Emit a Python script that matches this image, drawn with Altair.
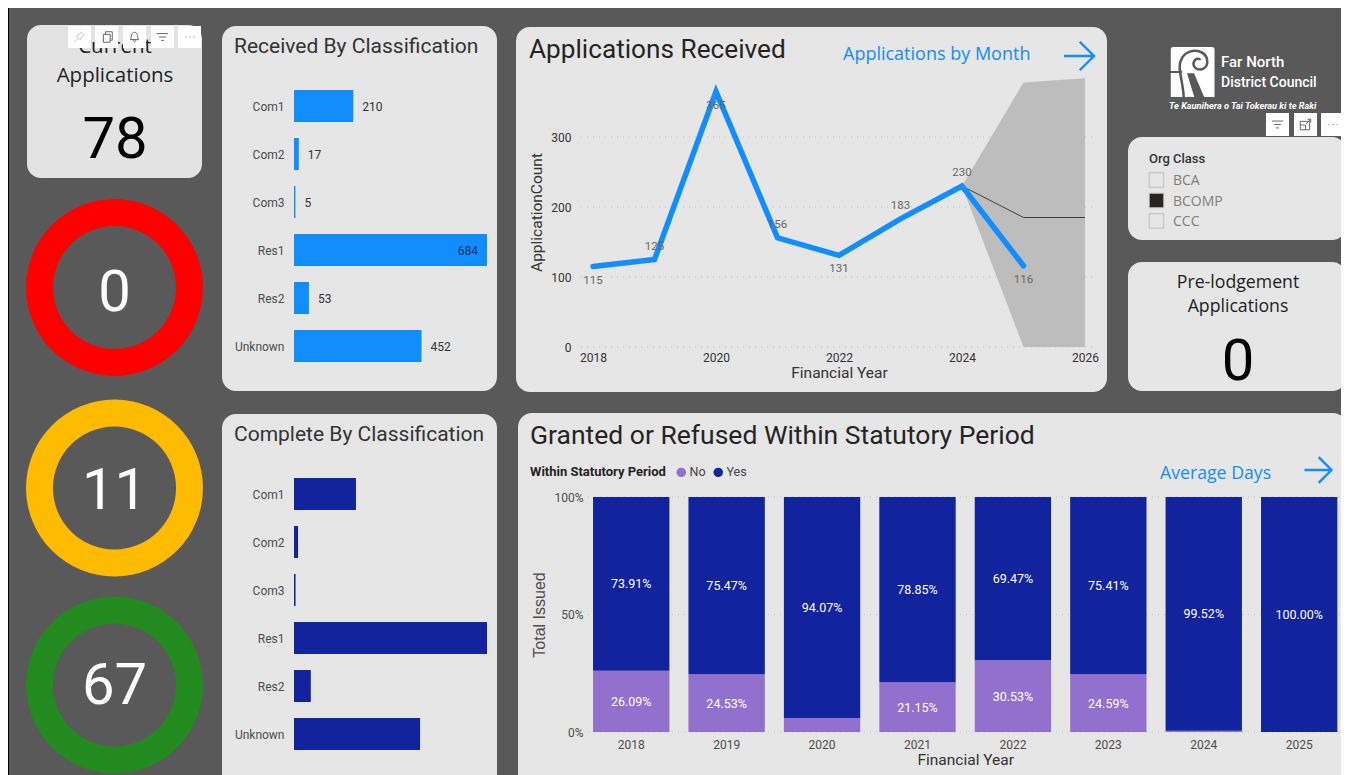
import altair as alt
import pandas as pd

# ---------- data ----------
classes = ["Com1", "Com2", "Com3", "Res1", "Res2", "Unknown"]
received = [210, 17, 5, 684, 53, 452]
complete = [199, 13, 5, 620, 54, 405]

years = [2018, 2019, 2020, 2021, 2022, 2023, 2024, 2025]
applications = [115, 125, 365, 156, 131, 183, 230, 116]
labels_above = [2019, 2021, 2023, 2024]
fc_years = [2024, 2025, 2026]
fc_mid = [230, 185, 185]
fc_low = [230, 0, 0]
fc_high = [230, 378, 384]
line_x_ticks = [2018, 2020, 2022, 2024, 2026]
line_y_ticks = [0, 100, 200, 300]

stat_years = ["2018", "2019", "2020", "2021", "2022", "2023", "2024", "2025"]
stat_no = [26.09, 24.53, 5.93, 21.15, 30.53, 24.59, 0.48, 0.0]
stat_yes = [73.91, 75.47, 94.07, 78.85, 69.47, 75.41, 99.52, 100.0]
stat_y_ticks = [0, 50, 100]

org_classes = ["BCA", "BCOMP", "CCC"]
org_selected = [False, True, False]

BG = "#595959"
CARD = "#E6E6E6"
BLUE = "#118DFF"
NAVY = "#12239E"
PURPLE = "#9270CE"
DIN = "Roboto"
SEG = "Open Sans"
O = 8  # page margin
W, H = 1333, 767


def card(x0, y0, x1, y1, color=CARD, r=14):
    return alt.Chart(pd.DataFrame({"a": [0]})).mark_rect(cornerRadius=r, color=color).encode(
        x=alt.value(x0 - O), x2=alt.value(x1 - O), y=alt.value(y0 - O), y2=alt.value(y1 - O))


def txt(s, x, y, size, color="#252423", font=DIN, align="center", weight="normal", angle=0):
    return alt.Chart(pd.DataFrame({"t": [s]})).mark_text(
        fontSize=size, color=color, font=font, align=align, baseline="middle",
        fontWeight=weight, angle=angle).encode(
        text="t:N", x=alt.value(x - O), y=alt.value(y - O + 1))


def glyph(path, x, y, size, color="#666666", sw=1.0, filled=False):
    kw = dict(fill=color, stroke=None, opacity=1) if filled else dict(fill=None, stroke=color, strokeWidth=sw, opacity=1)
    return alt.Chart(pd.DataFrame({"a": [0]})).mark_point(shape=path, size=size, filled=filled, **kw).encode(
        x=alt.value(x - O), y=alt.value(y - O))


ARROW = "M-1,0L1,0M0.05,-0.95L1,0L0.05,0.95"
FILTER = "M-1,-0.6L1,-0.6M-0.6,0L0.6,0M-0.25,0.6L0.25,0.6"
DOTS = "M-1,0L-0.8,0M-0.1,0L0.1,0M0.8,0L1,0"
COPY = "M-0.7,-0.5L-0.7,1L0.6,1L0.6,-0.5ZM-0.3,-0.5L-0.3,-1L1,-1L1,0.6L0.6,0.6"
BELL = "M-0.8,0.5C-0.5,0.2,-0.7,-0.9,0,-0.9C0.7,-0.9,0.5,0.2,0.8,0.5ZM-0.25,0.6C-0.2,1,0.2,1,0.25,0.6"
PIN = "M-1,1L-0.2,0.2M-0.6,-0.2L0.2,0.6L0.3,0.1L0.9,-0.4L0.3,-1L-0.2,-0.3Z"
FOCUS = "M-1,-0.6L-1,1L0.8,1L0.8,-0.6ZM-1,0.1L0,0.1L0,1M0.1,-0.1L1,-1M0.4,-1L1,-1L1,-0.4"
LOGO_BLOCK = "M-0.85,-0.9Q-0.85,-1,-0.75,-1L0.8,-1Q0.9,-1,0.9,-0.9L0.9,1L-0.85,1Z"
LOGO_SWIRL = "M-0.33,1.03C-0.35,0.4,-0.6,-0.2,-0.45,-0.45C-0.3,-0.85,0.1,-0.9,0.35,-0.8C0.7,-0.65,0.7,-0.15,0.35,-0.1C0.1,-0.08,0,-0.3,0.1,-0.45C0.15,-0.55,0.3,-0.55,0.33,-0.48"
LOGO_WEDGE = "M-0.2,0.05L0.08,0.05L0.5,1.03L0.1,1.03Z"
LOGO_GAP = "M-0.9,0L-0.4,0"

layers = []

# left black edge
layers.append(card(8, 0, 9, 790, "#000000", 0))

# ---------- KPI cards ----------
layers.append(card(27, 25, 202, 178, "#E3E3E3"))
layers.append(txt("Current", 115, 46, 20.5, "#201F1E", SEG))
layers.append(txt("Applications", 115, 75, 20.5, "#201F1E", SEG))
layers.append(txt("78", 115, 140, 58, "#000000"))

for val, col, cy, ty in [("0", "#FF0000", 287.5, 293), ("11", "#FFBB00", 488, 490.5), ("67", "#238A1F", 685, 685.5)]:
    layers.append(alt.Chart(pd.DataFrame({"a": [val]})).mark_arc(
        innerRadius=61.5, outerRadius=88.5, theta=0, theta2=6.2832, color=col).encode(
        x=alt.value(114.5 - O), y=alt.value(cy - O)))
    layers.append(txt(val, 114.5, ty, 58, "#FFFFFF"))

# toolbar over first card
for x0 in [68, 95, 123, 151, 178]:
    layers.append(card(x0, 26, x0 + 23, 48, "#FFFFFF", 0))
layers.append(glyph(PIN, 79.5, 37, 110, "#C8C8C8"))
layers.append(glyph(COPY, 107, 37, 110))
layers.append(glyph(BELL, 134.5, 37, 110))
layers.append(glyph(FILTER, 162.5, 37, 130))
layers.append(glyph(DOTS, 190, 37, 80))


# ---------- horizontal bars ----------
def hbar_scales(values, y0, y1, xmax):
    df = pd.DataFrame({"cat": classes, "v": values})
    xs = alt.Scale(domain=[0, xmax], range=[294 - O, 487 - O])
    ys = alt.Scale(domain=classes, range=[y0 - O, y1 - O], paddingInner=1 / 3, paddingOuter=1 / 6)
    return df, xs, ys


def class_axis():
    return alt.Axis(
        orient="left", offset=-(294 - O), title=None, domain=False, ticks=False, grid=False,
        labelPadding=10, labelFontSize=12, labelColor="#4d4d4d", labelFont=DIN, labelOffset=1, zindex=1)


df, xs, ys = hbar_scales(received, 82, 370, max(received))
layers.append(card(222, 26, 497, 391))
layers.append(txt("Received By Classification", 234, 46, 21, "#333333", align="left"))
layers.append(alt.Chart(df).mark_bar(color=BLUE).encode(
    x=alt.X("v:Q", scale=xs, axis=None),
    y=alt.Y("cat:N", scale=ys, axis=class_axis())))
layers.append(alt.Chart(df).transform_filter("datum.v < 600").mark_text(
    align="left", dx=9, dy=1, fontSize=12, font=DIN, color="#333333", baseline="middle").encode(
    x=alt.X("v:Q", scale=xs, axis=None), y=alt.Y("cat:N", scale=ys, axis=None), text="v:Q"))
layers.append(alt.Chart(df).transform_filter("datum.v >= 600").mark_text(
    align="right", dx=-9, dy=1, fontSize=12, font=DIN, color="#12305a", baseline="middle").encode(
    x=alt.X("v:Q", scale=xs, axis=None), y=alt.Y("cat:N", scale=ys, axis=None), text="v:Q"))

df, xs, ys = hbar_scales(complete, 470, 758, max(complete))
layers.append(card(222, 414, 497, 800))
layers.append(txt("Complete By Classification", 234, 434, 21, "#333333", align="left"))
layers.append(alt.Chart(df).mark_bar(color=NAVY).encode(
    x=alt.X("v:Q", scale=xs, axis=None),
    y=alt.Y("cat:N", scale=ys, axis=class_axis())))

# ---------- applications line ----------
layers.append(card(516, 27, 1107, 392))
layers.append(txt("Applications Received", 529, 49, 26.2, "#252423", align="left"))
layers.append(txt("Applications by Month", 843, 54, 18, BLUE, SEG, align="left"))
layers.append(glyph(ARROW, 1079, 56, 900, BLUE, 2.4))

lx = alt.Scale(domain=[2018, 2026], range=[593 - O, 1085 - O])
ly = alt.Scale(domain=[0, 400], range=[347 - O, 67 - O])
df_line = pd.DataFrame({"year": years, "n": applications})
df_fc = pd.DataFrame({"year": fc_years, "mid": fc_mid, "low": fc_low, "high": fc_high})

layers.append(alt.Chart(pd.DataFrame({"t": line_y_ticks})).mark_rule(
    color="#BDBDBD", strokeDash=[1, 5], strokeWidth=1).encode(
    x=alt.value(581 - O), x2=alt.value(1093 - O), y=alt.Y("t:Q", scale=ly, axis=None)))
layers.append(alt.Chart(df_fc).mark_area(color="#BDBDBD", opacity=1).encode(
    x=alt.X("year:Q", scale=lx, axis=None),
    y=alt.Y("low:Q", scale=ly, axis=None), y2="high:Q"))
layers.append(alt.Chart(df_fc).mark_line(color="#404040", strokeWidth=1).encode(
    x=alt.X("year:Q", scale=lx, axis=None), y=alt.Y("mid:Q", scale=ly, axis=None)))
layers.append(alt.Chart(df_line).mark_line(color=BLUE, strokeWidth=5.5, strokeCap="round", strokeJoin="miter").encode(
    x=alt.X("year:Q", scale=lx, axis=alt.Axis(
        orient="bottom", offset=(347 - O) - H, title="Financial Year", values=line_x_ticks, format="d",
        domain=False, ticks=False, grid=False, labelPadding=5, labelFontSize=12, labelColor="#333333",
        labelFont=DIN, labelFlush=False, titleFont=DIN, titleFontSize=15.5, titleFontWeight="normal",
        titleColor="#333333", titlePadding=2, labelOverlap=False, zindex=1)),
    y=alt.Y("n:Q", scale=ly, axis=alt.Axis(
        orient="left", offset=-(581 - O), title="ApplicationCount", values=line_y_ticks,
        domain=False, ticks=False, grid=False, labelPadding=10, labelFontSize=12, labelColor="#333333",
        labelFont=DIN, titleFont=DIN, titleFontSize=15.5, titleFontWeight="normal",
        titleColor="#333333", titlePadding=6, titleY=212 - O, zindex=1))))
for expr, dy in [(f"indexof({labels_above}, datum.year) >= 0", -13),
                 (f"indexof({labels_above}, datum.year) < 0", 14)]:
    layers.append(alt.Chart(df_line).transform_filter(expr).mark_text(
        fontSize=11.5, font=DIN, color="#666666", dy=dy, baseline="middle").encode(
        x=alt.X("year:Q", scale=lx, axis=None), y=alt.Y("n:Q", scale=ly, axis=None), text="n:Q"))

# ---------- logo ----------
layers.append(glyph(LOGO_BLOCK, 1192, 72, 2500, "#FFFFFF", filled=True))
layers.append(glyph(LOGO_SWIRL, 1192, 72, 2500, BG, 2.5))
layers.append(glyph(LOGO_WEDGE, 1192, 72, 2500, BG, filled=True))
layers.append(glyph(LOGO_GAP, 1192, 72, 2500, BG, 2))
layers.append(txt("Far North", 1221, 61, 15, "#FFFFFF", align="left", weight=500))
layers.append(txt("District Council", 1221, 82, 14, "#FFFFFF", align="left", weight=500))
layers.append(alt.Chart(pd.DataFrame({"t": ["Te Kaunihera o Tai Tokerau ki te Raki"]})).mark_text(
    fontSize=9.2, color="#FFFFFF", font=DIN, fontStyle="italic", align="left",
    baseline="middle", fontWeight="bold").encode(text="t:N", x=alt.value(1169 - O), y=alt.value(106 - O)))
for x0 in [1266, 1294, 1321]:
    layers.append(card(x0, 113, x0 + 23, 136, "#FFFFFF", 0))
layers.append(glyph(FILTER, 1277.5, 124.5, 130))
layers.append(glyph(FOCUS, 1305.5, 124.5, 110))
layers.append(glyph(DOTS, 1333, 124.5, 80))

# ---------- slicer ----------
layers.append(card(1128, 137, 1346, 240))
layers.append(txt("Org Class", 1149, 157.5, 13, "#333333", align="left", weight=500))
org_y = alt.Scale(domain=org_classes, range=[180 - O, 221 - O], padding=0)
df_org = pd.DataFrame({"c": org_classes, "s": org_selected})
layers.append(alt.Chart(df_org).mark_point(shape="square", size=210, filled=True, stroke="#BDBDBD", strokeWidth=1, opacity=1).encode(
    x=alt.value(1156.5 - O),
    y=alt.Y("c:N", scale=org_y, axis=None),
    fill=alt.Fill("s:N", scale=alt.Scale(domain=[False, True], range=["#E6E6E6", "#252423"]), legend=None)))
layers.append(alt.Chart(df_org).mark_text(fontSize=14, font=SEG, color="#7F7F7F", align="left", baseline="middle", dy=1).encode(
    x=alt.value(1173 - O), y=alt.Y("c:N", scale=org_y, axis=None), text="c:N"))

# ---------- pre-lodgement ----------
layers.append(card(1128, 262, 1346, 391))
layers.append(txt("Pre-lodgement", 1238, 282, 17.7, "#201F1E", SEG))
layers.append(txt("Applications", 1238, 306, 17.7, "#201F1E", SEG))
layers.append(txt("0", 1238, 362, 58, "#000000"))

# ---------- statutory stacked bars ----------
layers.append(card(518, 413, 1347, 800))
layers.append(txt("Granted or Refused Within Statutory Period", 530, 435, 26.5, "#252423", align="left"))
layers.append(txt("Average Days", 1160, 473, 17.7, BLUE, SEG, align="left"))
layers.append(glyph(ARROW, 1318, 470, 729, BLUE, 2.4))

sx = alt.Scale(domain=stat_years, range=[583.5 - O, 1346.9 - O], paddingInner=0.2, paddingOuter=0.1)
sy = alt.Scale(domain=[0, 100], range=[732 - O, 497 - O])
rows = []
for yr, no, yes in zip(stat_years, stat_no, stat_yes):
    rows.append({"yr": yr, "status": "No", "pct": no, "rank": 0, "mid": no / 2})
    rows.append({"yr": yr, "status": "Yes", "pct": yes, "rank": 1, "mid": no + yes / 2})
df_stat = pd.DataFrame(rows)

layers.append(alt.Chart(pd.DataFrame({"t": stat_y_ticks})).mark_rule(
    color="#BDBDBD", strokeDash=[1, 5], strokeWidth=1).encode(
    x=alt.value(588 - O), x2=alt.value(1345 - O), y=alt.Y("t:Q", scale=sy, axis=None)))
layers.append(alt.Chart(df_stat).mark_bar().encode(
    x=alt.X("yr:N", scale=sx, axis=alt.Axis(
        orient="bottom", offset=(732 - O) - H, title="Financial Year", labelAngle=0,
        domain=False, ticks=False, grid=False, labelPadding=7, labelFontSize=12, labelColor="#4d4d4d",
        labelFont=DIN, titleFont=DIN, titleFontSize=15.5, titleFontWeight="normal",
        titleColor="#333333", titlePadding=2, zindex=1)),
    y=alt.Y("pct:Q", stack="zero", scale=sy, axis=alt.Axis(
        orient="left", offset=-(588 - O), title="Total Issued", values=stat_y_ticks,
        labelExpr="datum.value + '%'", domain=False, ticks=False, grid=False, labelPadding=5,
        labelFontSize=12, labelColor="#4d4d4d", labelFont=DIN, titleFont="Liberation Sans",
        titleFontSize=16, titleFontWeight="normal", titleColor="#4d4d4d", titlePadding=6, zindex=1)),
    order=alt.Order("rank:Q"),
    color=alt.Color("status:N", scale=alt.Scale(domain=["No", "Yes"], range=[PURPLE, NAVY]), legend=alt.Legend(
        orient="none", legendX=530 - O, legendY=466 - O, direction="horizontal", titleOrient="left",
        title="Within Statutory Period", symbolType="circle", symbolSize=90, symbolStrokeWidth=0, symbolOpacity=1,
        titleFont=DIN, titleFontSize=13, titleFontWeight="bold", titleColor="#252423", titlePadding=9,
        labelFont=DIN, labelFontSize=12.5, labelColor="#444444", labelOffset=2, columnPadding=6))))
layers.append(alt.Chart(df_stat).transform_filter("datum.pct >= 6").transform_calculate(
    lab="format(datum.pct, '.2f') + '%'").mark_text(
    fontSize=12.5, font=DIN, color="#FFFFFF", baseline="middle", dy=0.5).encode(
    x=alt.X("yr:N", scale=sx, axis=None),
    y=alt.Y("mid:Q", scale=sy, axis=None),
    text="lab:N"))

chart = alt.layer(*layers).resolve_scale(
    x="independent", y="independent", color="independent", fill="independent"
).properties(
    width=W, height=H, padding=0, background=BG,
    autosize=alt.AutoSizeParams(type="none"),
).configure_view(stroke=None)

chart.save("out.html", embed_options={"renderer": "svg", "actions": False})
